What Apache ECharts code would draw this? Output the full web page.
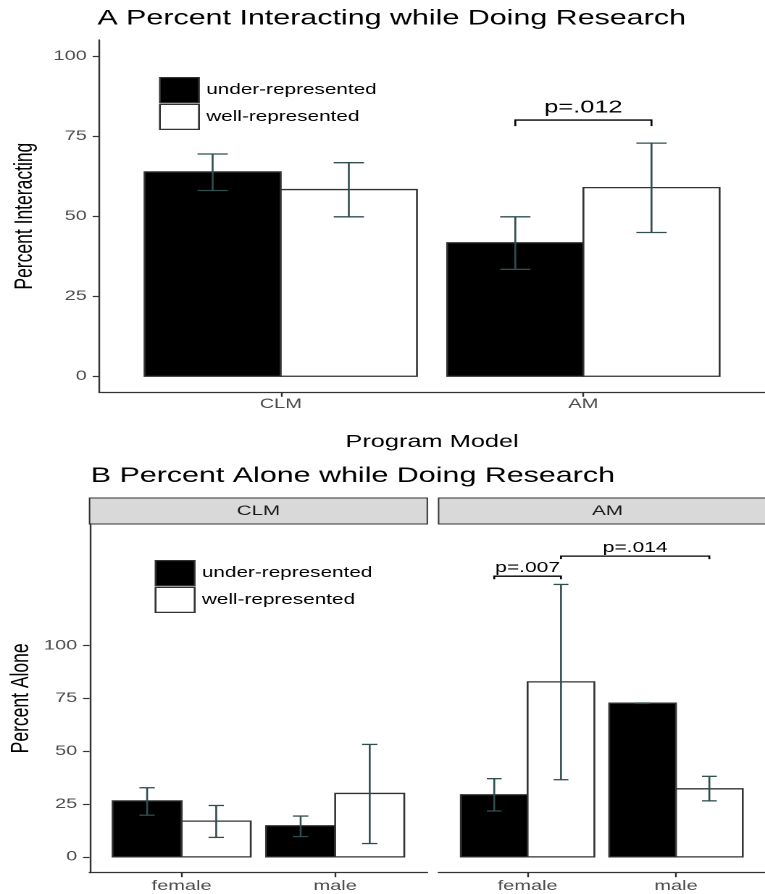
<!DOCTYPE html>
<html>
<head>
<meta charset="utf-8">
<script src="https://cdn.jsdelivr.net/npm/echarts@6/dist/echarts.min.js"></script>
<style>
html, body { margin: 0; padding: 0; background: #fff; }
#wrap { width: 765px; height: 894px; overflow: hidden; position: relative; }
#chart { width: 528px; height: 894px; transform: scaleX(1.448864); transform-origin: 0 0; }
</style>
</head>
<body>
<div id="wrap"><div id="chart"></div></div>
<script>
// ---------------- data ----------------
const programs = ['CLM', 'AM'];
const genders = ['female', 'male'];
const groups = ['under-represented', 'well-represented'];
const yTicks = [0, 25, 50, 75, 100];

// Panel A: percent interacting, by program (CLM, AM)
const interactUnder = [63.8, 41.7];
const interactWell = [58.3, 58.9];
const interactUnderCI = [[58.0, 69.4], [33.4, 49.8]];
const interactWellCI = [[49.8, 66.7], [44.9, 72.8]];

// Panel B: percent alone, by gender (female, male) within program
const aloneUnderCLM = [26.5, 14.7];
const aloneWellCLM = [16.9, 30.0];
const aloneUnderCLMCI = [[19.7, 32.7], [9.6, 19.3]];
const aloneWellCLMCI = [[9.2, 24.3], [6.3, 53.2]];
const aloneUnderAM = [29.4, 72.7];
const aloneWellAM = [82.8, 32.2];
const aloneUnderAMCI = [[21.7, 37.0], [72.6, 72.8]];
const aloneWellAMCI = [[36.5, 128.9], [26.5, 38.1]];

// significance brackets: from/to = [category number, group index]
const sigA = [{ label: 'p=.012', from: [2, 0], to: [2, 1], y: 80 }];
const sigBAM = [
  { label: 'p=.007', from: [1, 0], to: [1, 1], y: 132.8 },
  { label: 'p=.014', from: [1, 1], to: [2, 1], y: 142.3 }
];

// ---------------- style / layout ----------------
const FONT = '"Liberation Sans", Arial, Helvetica, sans-serif';
const HALF = 0.225;   // half of a dodged bar (total width 0.9)
const CAP = 0.05;     // half error-bar cap width
const ERR = '#2F4F4F';
const EDGE = '#333333';
const gridA = { left: 66.6, top: 40, width: 469.2, height: 352.3 };
const gridB1 = { left: 61.8, top: 524, width: 233.1, height: 348.7 };
const gridB2 = { left: 302.7, top: 524, width: 233.1, height: 348.7 };
const STRIP_H = 26;

function offsetOf(g) { return g === 0 ? -HALF : HALF; }

function barSeries(name, values, color, idx, g) {
  const off = offsetOf(g);
  return {
    type: 'custom', name: name, xAxisIndex: idx, yAxisIndex: idx, silent: true,
    itemStyle: { color: color },
    data: values.map((v, i) => [i + 1, v]),
    encode: { x: 0, y: 1 },
    renderItem: function (params, api) {
      const c = api.value(0) + off;
      const a = api.coord([c - HALF, api.value(1)]);
      const b = api.coord([c + HALF, 0]);
      return {
        type: 'rect',
        shape: { x: a[0], y: a[1], width: b[0] - a[0], height: b[1] - a[1] },
        style: { fill: color, stroke: EDGE, lineWidth: 1.3 }
      };
    }
  };
}

function errSeries(ci, idx, g) {
  const off = offsetOf(g);
  return {
    type: 'custom', name: 'ci', xAxisIndex: idx, yAxisIndex: idx, silent: true, z: 5,
    data: ci.map((d, i) => [i + 1, d[0], d[1]]),
    encode: { x: 0, y: [1, 2] },
    renderItem: function (params, api) {
      const c = api.value(0) + off;
      const lo = api.value(1), hi = api.value(2);
      const p1 = api.coord([c, lo]), p2 = api.coord([c, hi]);
      const l1 = api.coord([c - CAP, lo]), r1 = api.coord([c + CAP, lo]);
      const l2 = api.coord([c - CAP, hi]), r2 = api.coord([c + CAP, hi]);
      const st = { stroke: ERR, lineWidth: 1.3 };
      return {
        type: 'group', children: [
          { type: 'line', shape: { x1: p1[0], y1: p1[1], x2: p2[0], y2: p2[1] }, style: st },
          { type: 'line', shape: { x1: l1[0], y1: l1[1], x2: r1[0], y2: r1[1] }, style: st },
          { type: 'line', shape: { x1: l2[0], y1: l2[1], x2: r2[0], y2: r2[1] }, style: st }
        ]
      };
    }
  };
}

function sigSeries(list, idx, tipPx, fontPx, gapPx) {
  return {
    type: 'custom', name: 'sig', xAxisIndex: idx, yAxisIndex: idx, silent: true, z: 6,
    data: list.map(b => [b.from[0] + offsetOf(b.from[1]), b.to[0] + offsetOf(b.to[1]), b.y]),
    encode: { x: [0, 1], y: 2 },
    renderItem: function (params, api) {
      const a = api.coord([api.value(0), api.value(2)]);
      const b = api.coord([api.value(1), api.value(2)]);
      return {
        type: 'group', children: [
          { type: 'polyline',
            shape: { points: [[a[0], a[1] + tipPx], [a[0], a[1]], [b[0], b[1]], [b[0], b[1] + tipPx]] },
            style: { stroke: '#000', fill: 'none', lineWidth: 1.3 } },
          { type: 'text',
            style: { text: list[params.dataIndex].label, x: (a[0] + b[0]) / 2, y: a[1] - gapPx,
                     font: fontPx + 'px ' + FONT, fill: '#000', align: 'center', verticalAlign: 'middle' } }
        ]
      };
    }
  };
}

function xAxisDef(gi, cats, margin, name) {
  const ax = {
    type: 'value', gridIndex: gi, min: 0.4, max: 2.6,
    axisLine: { show: true, onZero: false, lineStyle: { color: EDGE, width: 1.2 } },
    axisTick: { show: true, customValues: [1, 2], length: 4.5, lineStyle: { color: EDGE, width: 1.2 } },
    axisLabel: { show: true, customValues: [1, 2], formatter: v => cats[Math.round(v) - 1],
                 margin: margin, color: '#4d4d4d', fontSize: 13.8, fontFamily: FONT },
    splitLine: { show: false }
  };
  if (name) {
    ax.name = name; ax.nameLocation = 'middle'; ax.nameGap = 41;
    ax.nameTextStyle = { fontSize: 17.5, color: '#000', fontFamily: FONT };
  }
  return ax;
}

function yAxisDef(gi, min, max, name, gap, show) {
  return {
    type: 'value', gridIndex: gi, min: min, max: max, show: show,
    axisLine: { show: true, onZero: false, lineStyle: { color: EDGE, width: 1.2 } },
    axisTick: { show: true, customValues: yTicks, length: 4.5, lineStyle: { color: EDGE, width: 1.2 } },
    axisLabel: { show: true, customValues: yTicks, margin: 8.5, color: '#4d4d4d', fontSize: 13.8, fontFamily: FONT },
    splitLine: { show: false },
    name: name, nameLocation: 'middle', nameGap: gap,
    nameTextStyle: { fontSize: 17.5, color: '#000', fontFamily: FONT }
  };
}

function legendDef(left, top) {
  return {
    left: left, top: top, orient: 'vertical', padding: 0, itemGap: 0.5,
    itemWidth: 27, itemHeight: 25, selectedMode: false,
    textStyle: { fontSize: 14.3, color: '#000', fontFamily: FONT },
    data: [
      { name: groups[0], icon: 'rect', itemStyle: { color: '#000', borderColor: EDGE, borderWidth: 1.2 } },
      { name: groups[1], icon: 'rect', itemStyle: { color: '#fff', borderColor: EDGE, borderWidth: 1.3 } }
    ]
  };
}

const strips = [gridB1, gridB2];
const graphics = [];
strips.forEach((g, i) => {
  graphics.push({
    type: 'rect', silent: true,
    shape: { x: g.left, y: g.top - STRIP_H, width: g.width, height: STRIP_H },
    style: { fill: '#d9d9d9', stroke: EDGE, lineWidth: 1 }
  });
  graphics.push({
    type: 'text', silent: true, x: g.left + g.width / 2, y: g.top - STRIP_H / 2,
    style: { text: programs[i], font: '14.2px ' + FONT, fill: '#1a1a1a', align: 'center', verticalAlign: 'middle' }
  });
});

const option = {
  animation: false,
  backgroundColor: '#fff',
  title: [
    { text: 'A Percent Interacting while Doing Research', left: 67.2, top: 8, padding: 0,
      textStyle: { fontSize: 21, fontWeight: 'normal', color: '#000', fontFamily: FONT } },
    { text: 'B Percent Alone while Doing Research', left: 62.6, top: 465.5, padding: 0,
      textStyle: { fontSize: 21, fontWeight: 'normal', color: '#000', fontFamily: FONT } }
  ],
  legend: [legendDef(109.7, 77), legendDef(106.7, 560)],
  grid: [gridA, gridB1, gridB2],
  xAxis: [
    xAxisDef(0, programs, 5, 'Program Model'),
    xAxisDef(1, genders, 6.5),
    xAxisDef(2, genders, 6.5)
  ],
  yAxis: [
    yAxisDef(0, -5, 105, 'Percent Interacting', 42, true),
    yAxisDef(1, -7.5, 157.5, 'Percent Alone', 38, true),
    yAxisDef(2, -7.5, 157.5, '', 38, false)
  ],
  series: [
    barSeries(groups[0], interactUnder, '#000', 0, 0),
    barSeries(groups[1], interactWell, '#fff', 0, 1),
    errSeries(interactUnderCI, 0, 0),
    errSeries(interactWellCI, 0, 1),
    sigSeries(sigA, 0, 6, 17.5, 12.5),

    barSeries(groups[0], aloneUnderCLM, '#000', 1, 0),
    barSeries(groups[1], aloneWellCLM, '#fff', 1, 1),
    errSeries(aloneUnderCLMCI, 1, 0),
    errSeries(aloneWellCLMCI, 1, 1),

    barSeries(groups[0], aloneUnderAM, '#000', 2, 0),
    barSeries(groups[1], aloneWellAM, '#fff', 2, 1),
    errSeries(aloneUnderAMCI, 2, 0),
    errSeries(aloneWellAMCI, 2, 1),
    sigSeries(sigBAM, 2, 3, 14.5, 8)
  ],
  graphic: graphics
};

const chart = echarts.init(document.getElementById('chart'), null, { renderer: 'canvas', devicePixelRatio: 2 });
chart.setOption(option);
</script>
</body>
</html>
